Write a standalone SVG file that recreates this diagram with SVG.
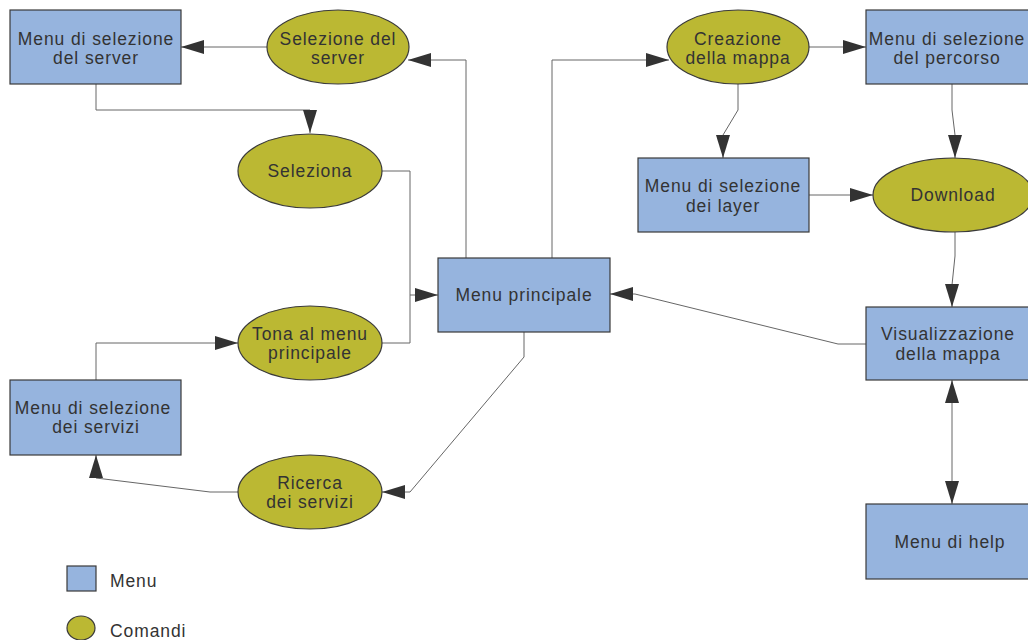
<svg xmlns="http://www.w3.org/2000/svg" width="1028" height="640" viewBox="0 0 1028 640">
<style>
.menu{fill:#96b4de;stroke:#3a3a3a;stroke-width:1.2}
.cmd{fill:#bbb833;stroke:#3a3a3a;stroke-width:1.2}
.t{font-family:"Liberation Sans",Arial,sans-serif;font-size:17.5px;fill:#333;text-anchor:middle;letter-spacing:0.9px}
.lg{font-family:"Liberation Sans",Arial,sans-serif;font-size:17.5px;fill:#333;letter-spacing:0.9px}
.c{fill:none;stroke:#666;stroke-width:1}
</style>
<defs>
<marker id="ah" markerWidth="23" markerHeight="14" refX="23" refY="7" orient="auto-start-reverse" markerUnits="userSpaceOnUse">
<path d="M0,0 L23,7 L0,14 z" fill="#333"/>
</marker>
</defs>
<rect width="1028" height="640" fill="#fff"/>
<g id="connectors">
<path class="c" d="M267,47 H181" marker-end="url(#ah)"/>
<path class="c" d="M96,84 V110 H310 V133" marker-end="url(#ah)"/>
<path class="c" d="M382,171 H410 V295 H438" marker-end="url(#ah)"/>
<path class="c" d="M382,343 H410 V295"/>
<path class="c" d="M466,258 V60 H408" marker-end="url(#ah)"/>
<path class="c" d="M552,258 V60 H669" marker-end="url(#ah)"/>
<path class="c" d="M809,47 H866" marker-end="url(#ah)"/>
<path class="c" d="M738,84 V110 L723,135 V158" marker-end="url(#ah)"/>
<path class="c" d="M952,84 V110 L955,135 V158" marker-end="url(#ah)"/>
<path class="c" d="M809,195 H873" marker-end="url(#ah)"/>
<path class="c" d="M955,232 V256 L952,285 V307" marker-end="url(#ah)"/>
<path class="c" d="M866,344 H838 L635,294 H610" marker-end="url(#ah)"/>
<path class="c" d="M952,380 V504" marker-start="url(#ah)" marker-end="url(#ah)"/>
<path class="c" d="M524,332 V357 L410,492 H382" marker-end="url(#ah)"/>
<path class="c" d="M238,492 H210 L96,478 V455" marker-end="url(#ah)"/>
<path class="c" d="M96,380 V343 H238" marker-end="url(#ah)"/>
</g>
<g id="menu-server">
<rect class="menu" x="10" y="10" width="171" height="74"/>
<text class="t" x="96" y="45">Menu di selezione</text>
<text class="t" x="96" y="64">del server</text>
</g>
<g id="selezione-server">
<ellipse class="cmd" cx="338" cy="47" rx="71" ry="37"/>
<text class="t" x="338" y="45">Selezione del</text>
<text class="t" x="338" y="64">server</text>
</g>
<g id="seleziona">
<ellipse class="cmd" cx="310" cy="171" rx="72" ry="37"/>
<text class="t" x="310" y="177">Seleziona</text>
</g>
<g id="menu-principale">
<rect class="menu" x="438" y="258" width="172" height="74"/>
<text class="t" x="524" y="301">Menu principale</text>
</g>
<g id="tona">
<ellipse class="cmd" cx="310" cy="343" rx="72" ry="37"/>
<text class="t" x="310" y="340">Tona al menu</text>
<text class="t" x="310" y="359">principale</text>
</g>
<g id="menu-servizi">
<rect class="menu" x="10" y="380" width="171" height="75"/>
<text class="t" x="93" y="414">Menu di selezione</text>
<text class="t" x="96" y="433">dei servizi</text>
</g>
<g id="ricerca">
<ellipse class="cmd" cx="310" cy="492" rx="72" ry="37"/>
<text class="t" x="310" y="489">Ricerca</text>
<text class="t" x="310" y="508">dei servizi</text>
</g>
<g id="creazione">
<ellipse class="cmd" cx="738" cy="47" rx="71" ry="37"/>
<text class="t" x="738" y="45">Creazione</text>
<text class="t" x="738" y="64">della mappa</text>
</g>
<g id="menu-percorso">
<rect class="menu" x="866" y="10" width="164" height="74"/>
<text class="t" x="947" y="45">Menu di selezione</text>
<text class="t" x="947" y="64">del percorso</text>
</g>
<g id="menu-layer">
<rect class="menu" x="638" y="158" width="171" height="74"/>
<text class="t" x="723" y="192">Menu di selezione</text>
<text class="t" x="723" y="212">dei layer</text>
</g>
<g id="download">
<ellipse class="cmd" cx="953" cy="195" rx="80" ry="37"/>
<text class="t" x="953" y="201">Download</text>
</g>
<g id="visualizzazione">
<rect class="menu" x="866" y="307" width="164" height="73"/>
<text class="t" x="948" y="340">Visualizzazione</text>
<text class="t" x="948" y="360">della mappa</text>
</g>
<g id="menu-help">
<rect class="menu" x="866" y="504" width="164" height="75"/>
<text class="t" x="950" y="548">Menu di help</text>
</g>
<g id="legend">
<rect class="menu" x="67" y="566" width="29" height="25"/>
<text class="lg" x="110" y="587">Menu</text>
<ellipse class="cmd" cx="81" cy="628" rx="14" ry="12"/>
<text class="lg" x="110" y="637">Comandi</text>
</g>
</svg>
